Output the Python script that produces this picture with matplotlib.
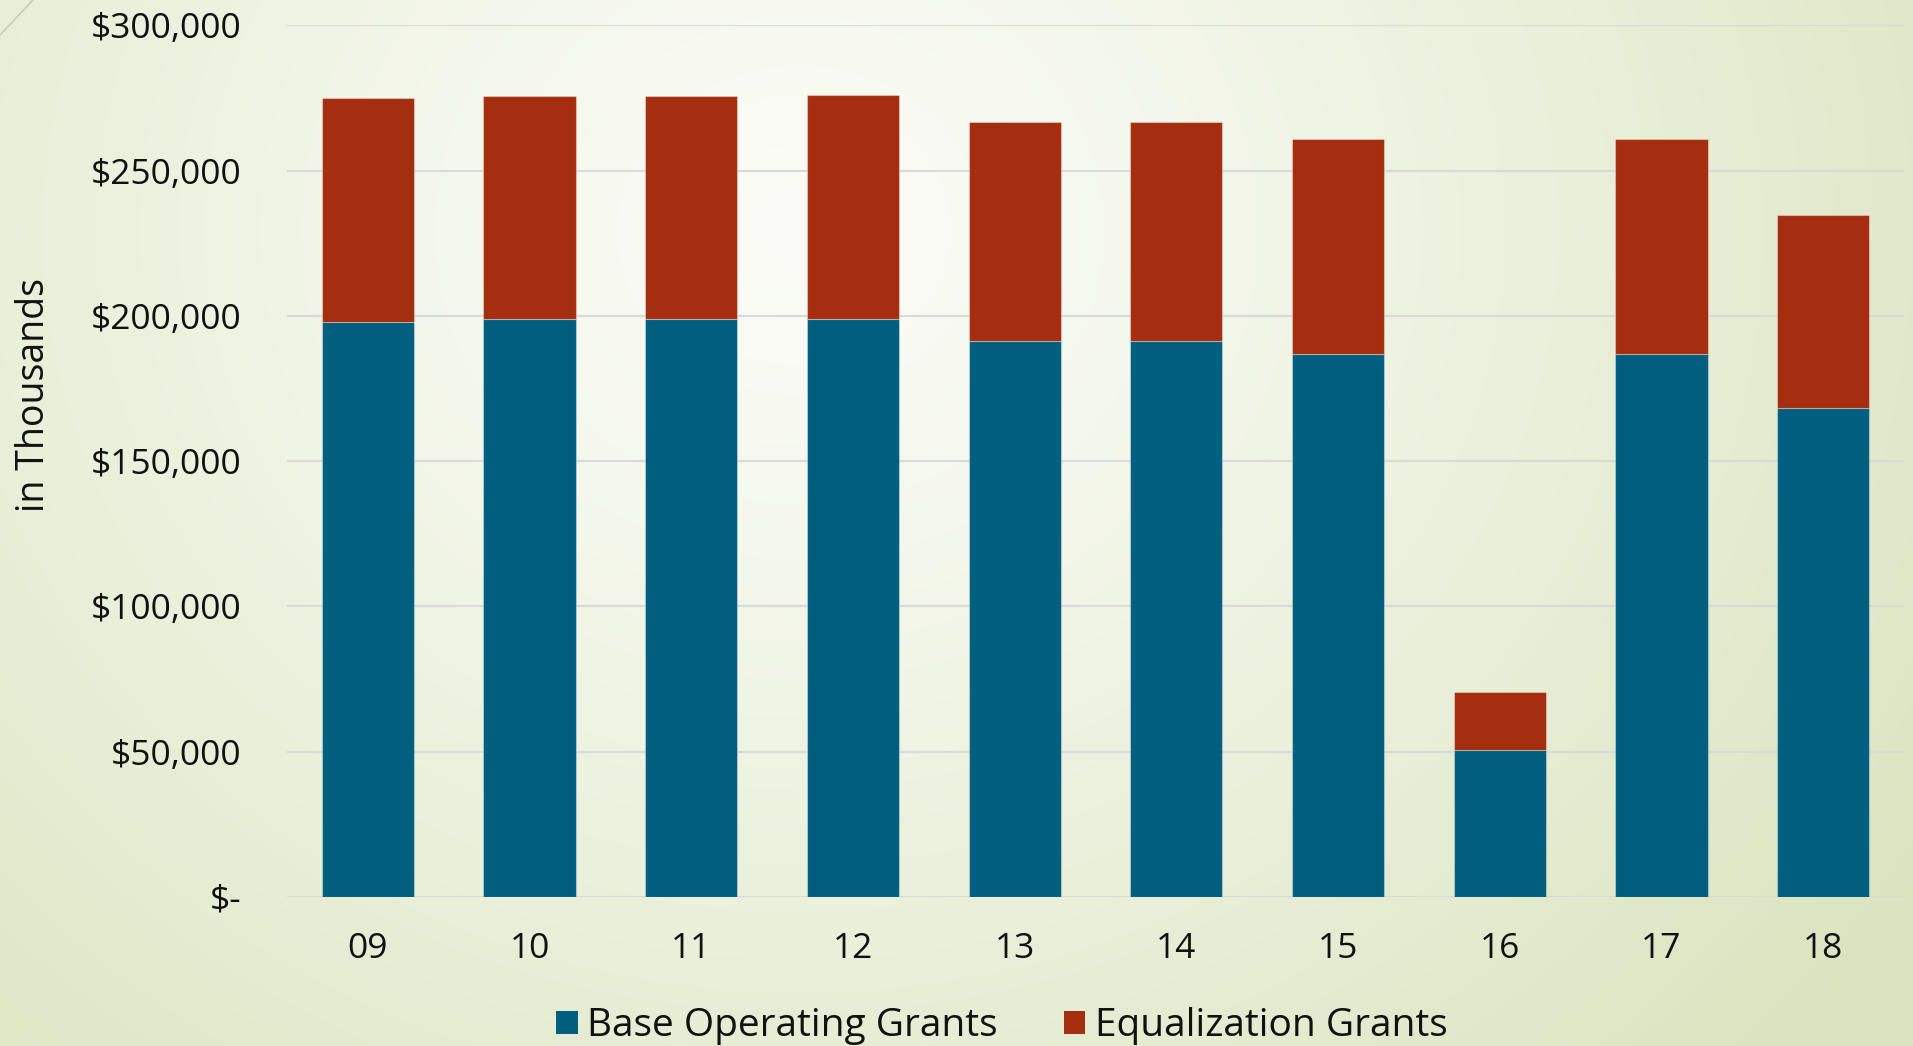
import numpy as np
import matplotlib
matplotlib.use("Agg")
import matplotlib.pyplot as plt
from matplotlib.colors import to_rgb
from matplotlib.lines import Line2D
from matplotlib.patches import Patch

plt.rcParams['font.family'] = ['Open Sans', 'DejaVu Sans']

# grant amounts, in thousands of dollars
years = ["09", "10", "11", "12", "13", "14", "15", "16", "17", "18"]
base_grants = [197800, 198800, 198800, 198800, 191200, 191200, 186900, 50500, 186900, 168200]
equalization_grants = [77300, 76800, 76800, 77100, 75500, 75500, 73900, 19900, 73800, 66500]

yticks = [0, 50000, 100000, 150000, 200000, 250000, 300000]
ytick_labels = ["$-", "$50,000", "$100,000", "$150,000", "$200,000", "$250,000", "$300,000"]

blue = "#005E7E"
red = "#A52E10"

W, H = 1913, 1046
fig = plt.figure(figsize=(W / 100, H / 100), dpi=100)

# soft green backdrop, lightest near the top middle
bg = fig.add_axes([0, 0, 1, 1], zorder=-10)
gx, gy = np.meshgrid(np.arange(W), np.arange(H))
d = np.sqrt(((gx - 800) / 1.0) ** 2 + ((gy - 230) / 0.9) ** 2) / 1350.0
t = np.clip(d, 0, 1) ** 1.2
c0 = np.array(to_rgb("#FBFCF7"))
c1 = np.array(to_rgb("#DAE4BF"))
img = c0[None, None, :] * (1 - t[..., None]) + c1[None, None, :] * t[..., None]
bg.imshow(img, aspect="auto", extent=[0, 1, 0, 1], origin="upper")
bg.axis("off")

# thin diagonal stroke in the top-left corner
fig.add_artist(Line2D([0, 33 / W], [1 - 35 / H, 1], transform=fig.transFigure,
                      color="#C9CDBD", lw=1.2))

ax = fig.add_axes([287 / W, 1 - 897 / H, (1904 - 287) / W, (897 - 25.3) / H])
ax.set_facecolor("none")

x = np.arange(len(years))
ax.bar(x, base_grants, width=0.57, color=blue, edgecolor=(1, 1, 1, 0.35),
       linewidth=0.8, zorder=3)
ax.bar(x, equalization_grants, width=0.57, bottom=base_grants, color=red,
       edgecolor=(1, 1, 1, 0.35), linewidth=0.8, zorder=3)

ax.set_xlim(-0.5, len(years) - 0.5)
ax.set_ylim(0, 300000)
ax.set_yticks(yticks)
ax.set_yticklabels(ytick_labels)
ax.set_xticks(x)
ax.set_xticklabels(years)
ax.tick_params(axis="y", length=0, pad=33, labelsize=25.5, labelcolor="#111111")
ax.tick_params(axis="x", length=0, pad=25, labelsize=25.5, labelcolor="#111111")
ax.yaxis.grid(True, color="#D9D9D9", lw=1.5, zorder=0)
ax.set_axisbelow(True)
for s in ax.spines.values():
    s.set_visible(False)

fig.text(34 / W, 1 - 395 / H, "in Thousands", rotation=90, ha="center",
         va="center", fontsize=27, color="#111111")

handles = [Patch(facecolor=blue, label="Base Operating Grants"),
           Patch(facecolor=red, label="Equalization Grants")]
fig.legend(handles=handles, loc="center", bbox_to_anchor=(1002 / W, 1 - 1026 / H),
           ncol=2, frameon=False, fontsize=28, handlelength=0.55, handleheight=0.55,
           handletextpad=0.25, columnspacing=1.7, labelcolor="#111111")

fig.savefig("out.png", dpi=100)
